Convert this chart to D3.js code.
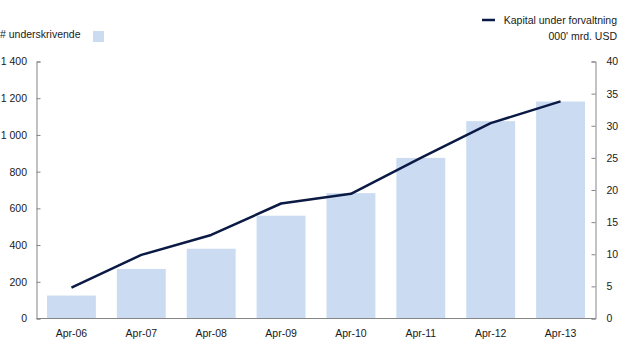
<!DOCTYPE html>
<html>
<head>
<meta charset="utf-8">
<script src="https://cdn.jsdelivr.net/npm/d3@7"></script>
<style>
  body { margin: 0; background: #fff; }
  text { font-family: "Liberation Sans", Arial, sans-serif; font-size: 10.5px; fill: #1a1a1a; }
</style>
</head>
<body>
<svg></svg>
<script>
const categories = ['Apr-06','Apr-07','Apr-08','Apr-09','Apr-10','Apr-11','Apr-12','Apr-13'];
const underwriters = [125, 270, 380, 560, 683, 875, 1075, 1182];
const capital = [4.8, 9.9, 13.0, 17.9, 19.4, 25.0, 30.4, 33.8];
const leftTicks = [0, 200, 400, 600, 800, 1000, 1200, 1400];
const rightTicks = [0, 5, 10, 15, 20, 25, 30, 35, 40];

const width = 620, height = 354;
const plotLeft = 36.5, plotRight = 595.5, plotTop = 61.5, plotBottom = 318.5;
const axisColor = '#858585';
const barColor = '#cbdcf2';
const lineColor = '#0b1a45';
const fontSize = '10.5px';

var svg = d3.select('svg').attr('width', width).attr('height', height);

var x = d3.scaleBand().domain(categories).range([plotLeft, plotRight]).paddingInner(0.3).paddingOuter(0.15);
var yLeft = d3.scaleLinear().domain([0, 1400]).range([plotBottom, plotTop]);
var yRight = d3.scaleLinear().domain([0, 40]).range([plotBottom, plotTop]);

// bars
svg.append('g').selectAll('rect')
  .data(categories)
  .enter().append('rect')
  .attr('x', d => x(d))
  .attr('y', (d, i) => yLeft(underwriters[i]))
  .attr('width', x.bandwidth())
  .attr('height', (d, i) => plotBottom - yLeft(underwriters[i]))
  .style('fill', barColor);

// line
var line = d3.line()
  .x((d, i) => x(categories[i]) + x.bandwidth() / 2)
  .y(d => yRight(d));
svg.append('path')
  .datum(capital)
  .attr('d', line)
  .style('fill', 'none')
  .style('stroke', lineColor)
  .style('stroke-width', 2.5)
  .style('stroke-linejoin', 'round');

// left axis
var leftAxis = svg.append('g')
  .attr('transform', 'translate(' + plotLeft + ',0)')
  .call(d3.axisRight(yLeft).tickValues(leftTicks).tickSize(4).tickSizeOuter(4)
    .tickFormat(d => d3.format(',')(d).replace(',', ' ')));
leftAxis.selectAll('text').attr('x', -9.5).style('text-anchor', 'end');

// right axis
var rightAxis = svg.append('g')
  .attr('transform', 'translate(' + plotRight + ',0)')
  .call(d3.axisLeft(yRight).tickValues(rightTicks).tickSize(4).tickSizeOuter(4));
rightAxis.selectAll('text').attr('x', 11).style('text-anchor', 'start');

// bottom axis
var bottomAxis = svg.append('g')
  .attr('transform', 'translate(0,' + plotBottom + ')')
  .call(d3.axisBottom(x).tickSize(0).tickSizeOuter(0));
bottomAxis.selectAll('text').attr('y', 11);
bottomAxis.select('.domain').attr('d', 'M' + plotLeft + ',0H' + plotRight);

svg.selectAll('.domain').style('stroke', axisColor);
svg.selectAll('.tick line').style('stroke', axisColor);
svg.selectAll('.tick text').style('font-family', '"Liberation Sans", Arial, sans-serif').style('font-size', fontSize).style('fill', '#1a1a1a');

// legend
svg.append('text').attr('x', 0).attr('y', 38).text('# underskrivende');
svg.append('rect').attr('x', 93).attr('y', 31).attr('width', 11).attr('height', 11).style('fill', barColor);

svg.append('line').attr('x1', 482).attr('x2', 495).attr('y1', 20).attr('y2', 20)
  .style('stroke', lineColor).style('stroke-width', 2.5);
svg.append('text').attr('x', 617).attr('y', 24).style('text-anchor', 'end').text('Kapital under forvaltning');
svg.append('text').attr('x', 617).attr('y', 40).style('text-anchor', 'end').text("000' mrd. USD");
</script>
</body>
</html>
